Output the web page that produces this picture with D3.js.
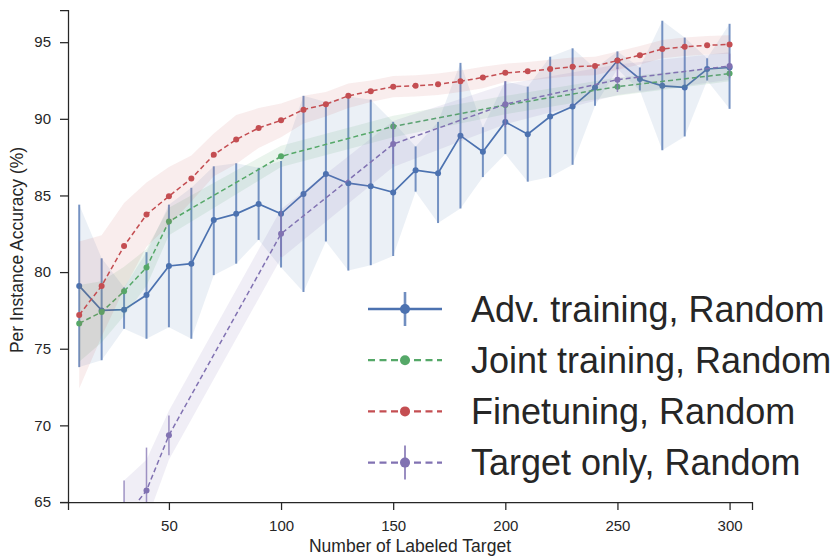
<!DOCTYPE html>
<html>
<head>
<meta charset="utf-8">
<script src="https://cdn.jsdelivr.net/npm/d3@7"></script>
<style>
  body { margin: 0; background: #fff; }
  svg { font-family: "Liberation Sans", Arial, sans-serif; }
  .axis text { fill: #262626; font-size: 15px; }
  .axis path, .axis line { stroke: #262626; stroke-width: 1.25; }
</style>
</head>
<body>
<script>
// ---- data ----
var xAll = [10, 20, 30, 40, 50, 60, 70, 80, 90, 100, 110, 120, 130, 140, 150,
            160, 170, 180, 190, 200, 210, 220, 230, 240, 250, 260, 270, 280, 290, 300];

var advMean = [79.1, 77.5, 77.55, 78.5, 80.4, 80.55, 83.4, 83.8, 84.45, 83.8, 85.1, 86.4, 85.8, 85.6, 85.2,
               86.65, 86.45, 88.9, 87.85, 89.8, 89.0, 90.15, 90.8, 92.05, 93.8, 92.6, 92.15, 92.05, 93.25, 93.35];
var advHi = [84.4, 80.9, 79.0, 81.3, 84.4, 85.5, 86.9, 87.1, 86.8, 87.25, 91.5, 91.1, 91.45, 91.25, 89.8,
             88.2, 89.8, 93.65, 89.45, 92.45, 92.1, 94.05, 94.6, 93.3, 94.4, 93.35, 96.4, 95.3, 93.95, 96.2];
var advLo = [73.8, 74.25, 76.3, 75.65, 76.4, 75.65, 79.8, 80.55, 82.1, 80.3, 78.7, 82.0, 80.1, 80.45, 81.05,
             85.25, 83.2, 84.15, 86.2, 87.7, 85.9, 86.2, 87.0, 90.85, 93.25, 91.85, 87.95, 88.85, 92.5, 90.65];

var ftMean = [77.2, 79.1, 81.7, 83.75, 84.95, 86.1, 87.65, 88.65, 89.4, 89.9, 90.6, 90.95, 91.5, 91.8, 92.1,
              92.15, 92.25, 92.45, 92.7, 93.0, 93.1, 93.25, 93.4, 93.45, 93.8, 94.15, 94.55, 94.7, 94.8, 94.85];
var ftBand = [4.8, 3.3, 2.8, 2.1, 1.9, 1.5, 1.4, 1.6, 1.3, 1.1, 0.9, 0.8, 0.8, 0.7, 0.7,
              0.7, 0.7, 0.7, 0.7, 0.6, 0.6, 0.6, 0.6, 0.6, 0.6, 0.6, 0.6, 0.6, 0.6, 0.6];

var xSparse = [10, 20, 30, 40, 50, 100, 150, 200, 250, 300];
var jointMean = [76.65, 77.4, 78.75, 80.3, 83.3, 87.55, 89.5, 90.9, 92.1, 92.95];
var jointBand = [2.5, 2.0, 1.6, 1.2, 0.9, 0.7, 0.7, 0.6, 0.6, 0.5];

var xTarget = [30, 40, 50, 100, 150, 200, 250, 300];
var targetMean = [63.9, 65.75, 69.35, 82.5, 88.35, 90.95, 92.55, 93.45];
var targetErr = [2.5, 2.8, 1.3, 1.5, 1.3, 1.5, 0.8, 0.8];
var targetBand = [2.5, 2.0, 1.6, 1.6, 1.5, 1.3, 1.0, 0.9];

var legendLabels = ["Adv. training, Random", "Joint training, Random", "Finetuning, Random", "Target only, Random"];
var colors = {adv: "#4C72B0", joint: "#55A868", ft: "#C44E52", target: "#8172B2"};

// ---- layout ----
var W = 832, H = 556;
var margin = {top: 10, right: 80, bottom: 54, left: 68},
    width = W - margin.left - margin.right,
    height = H - margin.top - margin.bottom;

var svg = d3.select("body").append("svg")
    .attr("width", W).attr("height", H);

var g = svg.append("g")
    .attr("transform", "translate(" + margin.left + "," + margin.top + ")");

var x = d3.scaleLinear().domain([5, 310]).range([0, width]);
var y = d3.scaleLinear().domain([65, 97.1]).range([height, 0]);

svg.append("defs").append("clipPath").attr("id", "plotclip")
  .append("rect").attr("x", 0).attr("y", 0).attr("width", width).attr("height", height);

var plot = g.append("g").attr("clip-path", "url(#plotclip)");

function band(xv, lo, hi, color, op) {
  var pts = xv.map(function(d, i) { return {x: d, lo: lo[i], hi: hi[i]}; });
  plot.append("path")
      .datum(pts)
      .attr("fill", color)
      .attr("fill-opacity", op)
      .attr("d", d3.area()
        .x(function(d) { return x(d.x); })
        .y0(function(d) { return y(d.lo); })
        .y1(function(d) { return y(d.hi); }));
}

function line(xv, yv, color, dashed, w) {
  var pts = xv.map(function(d, i) { return [d, yv[i]]; });
  plot.append("path")
      .datum(pts)
      .attr("fill", "none")
      .attr("stroke", color)
      .attr("stroke-width", w)
      .attr("stroke-dasharray", dashed ? "5,3" : null)
      .attr("d", d3.line().x(function(d) { return x(d[0]); }).y(function(d) { return y(d[1]); }));
}

function dots(xv, yv, color, r) {
  plot.selectAll(null)
      .data(xv.map(function(d, i) { return [d, yv[i]]; }))
      .enter().append("circle")
      .attr("cx", function(d) { return x(d[0]); })
      .attr("cy", function(d) { return y(d[1]); })
      .attr("r", r)
      .attr("fill", color);
}

function errbars(xv, lo, hi, color, w) {
  plot.selectAll(null)
      .data(xv.map(function(d, i) { return [d, lo[i], hi[i]]; }))
      .enter().append("line")
      .attr("x1", function(d) { return x(d[0]); })
      .attr("x2", function(d) { return x(d[0]); })
      .attr("y1", function(d) { return y(d[1]); })
      .attr("y2", function(d) { return y(d[2]); })
      .attr("stroke", color)
      .attr("stroke-opacity", 0.75)
      .attr("stroke-width", w);
}

// adv. training
band(xAll, advLo, advHi, colors.adv, 0.11);
errbars(xAll, advLo, advHi, colors.adv, 2);
line(xAll, advMean, colors.adv, false, 1.7);
dots(xAll, advMean, colors.adv, 3);

// joint training
band(xSparse, jointMean.map(function(d, i) { return d - jointBand[i]; }),
     jointMean.map(function(d, i) { return d + jointBand[i]; }), colors.joint, 0.12);
line(xSparse, jointMean, colors.joint, true, 1.5);
dots(xSparse, jointMean, colors.joint, 3);

// finetuning
band(xAll, ftMean.map(function(d, i) { return d - ftBand[i]; }),
     ftMean.map(function(d, i) { return d + ftBand[i]; }), colors.ft, 0.1);
line(xAll, ftMean, colors.ft, true, 1.5);
dots(xAll, ftMean, colors.ft, 3);

// target only
band(xTarget, targetMean.map(function(d, i) { return d - targetBand[i]; }),
     targetMean.map(function(d, i) { return d + targetBand[i]; }), colors.target, 0.12);
errbars(xTarget, targetMean.map(function(d, i) { return d - targetErr[i]; }),
        targetMean.map(function(d, i) { return d + targetErr[i]; }), colors.target, 1.5);
line(xTarget, targetMean, colors.target, true, 1.5);
dots(xTarget, targetMean, colors.target, 3);

// ---- axes ----
g.append("g")
    .attr("class", "axis")
    .attr("transform", "translate(0," + height + ")")
    .call(d3.axisBottom(x).tickValues([50, 100, 150, 200, 250, 300]).tickSizeOuter(0).tickSize(8).tickPadding(10));

g.append("g")
    .attr("class", "axis")
    .call(d3.axisLeft(y).tickValues([65, 70, 75, 80, 85, 90, 95]).tickSizeOuter(0).tickSize(8).tickPadding(9));

g.append("text")
    .attr("x", width / 2)
    .attr("y", height + 50)
    .attr("text-anchor", "middle")
    .attr("fill", "#262626")
    .style("font-size", "17.5px")
    .text("Number of Labeled Target");

g.append("text")
    .attr("transform", "rotate(-90)")
    .attr("x", -height / 2 + 6)
    .attr("y", -45)
    .attr("text-anchor", "middle")
    .attr("fill", "#262626")
    .style("font-size", "17.5px")
    .text("Per Instance Accuracy (%)");

// ---- legend ----
var legendKeys = ["adv", "joint", "ft", "target"];
var legend = svg.append("g").attr("transform", "translate(368,309)");

legendKeys.forEach(function(k, i) {
  var row = legend.append("g").attr("transform", "translate(0," + (i * 51.2) + ")");
  var c = colors[k];
  row.append("line")
     .attr("x1", 0).attr("x2", 74).attr("y1", 0).attr("y2", 0)
     .attr("stroke", c)
     .attr("stroke-width", k === "adv" ? 2.6 : 2.2)
     .attr("stroke-dasharray", k === "adv" ? null : "7,4.5");
  if (k === "adv" || k === "target") {
    row.append("line")
       .attr("x1", 37).attr("x2", 37).attr("y1", -17).attr("y2", 17)
       .attr("stroke", c).attr("stroke-opacity", 0.8)
       .attr("stroke-width", k === "adv" ? 2.6 : 2);
  }
  row.append("circle").attr("cx", 37).attr("cy", 0).attr("r", 5).attr("fill", c);
  row.append("text")
     .attr("x", 103).attr("y", 12.5)
     .attr("fill", "#262626")
     .style("font-size", "36px")
     .text(legendLabels[i]);
});
</script>
</body>
</html>
